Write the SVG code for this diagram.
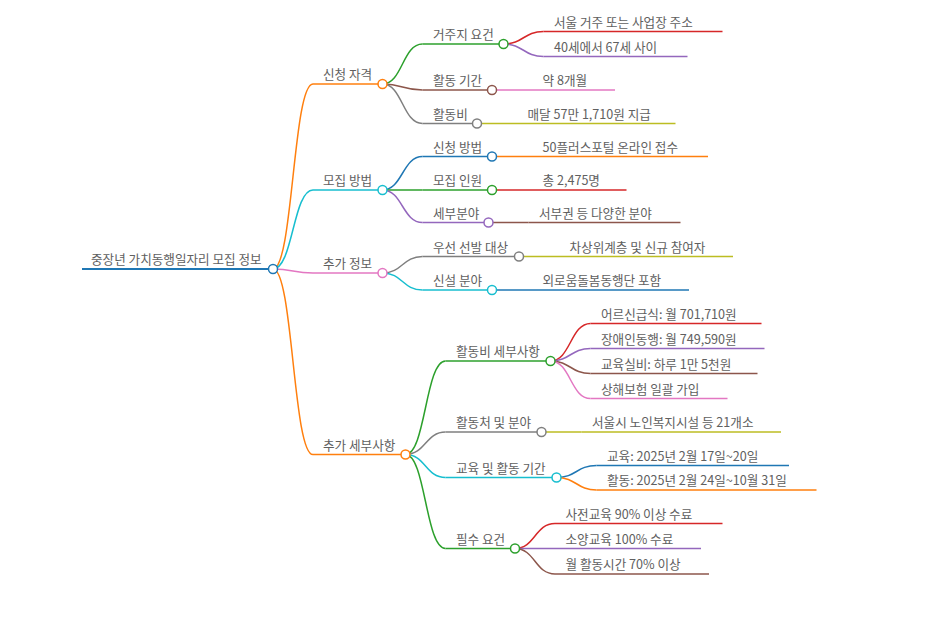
<svg xmlns="http://www.w3.org/2000/svg" width="930" height="620" viewBox="0 0 930 620">
<style>
text{font-family:"Noto Sans CJK KR","Noto Sans",sans-serif;font-size:12.6px;fill:#606060}
path,line{fill:none;stroke-width:1.5}
circle{fill:#fff;stroke-width:1.5}
.b{stroke:#1f77b4}.o{stroke:#ff7f0e}.g{stroke:#2ca02c}.r{stroke:#d62728}.p{stroke:#9467bd}
.br{stroke:#8c564b}.pk{stroke:#e377c2}.gy{stroke:#7f7f7f}.ol{stroke:#bcbd22}.c{stroke:#17becf}
</style>
<g id="connectors">
<path class="o" d="M273,269 C293,269 293,84 313,84"/>
<path class="c" d="M273,269 C293,269 293,190 313,190"/>
<path class="pk" d="M273,269 C293,269 293,273 313,273"/>
<path class="o" d="M273,269 C293,269 293,454.5 313,454.5"/>
<path class="g" d="M382.5,84 C402.5,84 402.5,44 422.5,44"/>
<path class="br" d="M382.5,84 C402.5,84 402.5,90 422.5,90"/>
<path class="gy" d="M382.5,84 C402.5,84 402.5,123.5 422.5,123.5"/>
<path class="r" d="M503.5,44 C523.5,44 523.5,31.5 543.5,31.5"/>
<path class="p" d="M503.5,44 C523.5,44 523.5,56.5 543.5,56.5"/>
<path class="pk" d="M492,90 L532,90"/>
<path class="ol" d="M477,123.5 L517,123.5"/>
<path class="b" d="M382.5,190 C402.5,190 402.5,156.5 422.5,156.5"/>
<path class="g" d="M382.5,190 L422.5,190"/>
<path class="p" d="M382.5,190 C402.5,190 402.5,222.5 422.5,222.5"/>
<path class="o" d="M492,156.5 L532,156.5"/>
<path class="r" d="M492,190 L532,190"/>
<path class="br" d="M488.5,222.5 L528.5,222.5"/>
<path class="gy" d="M382.5,273 C402.5,273 402.5,256.5 422.5,256.5"/>
<path class="c" d="M382.5,273 C402.5,273 402.5,290 422.5,290"/>
<path class="ol" d="M519,256.5 L559,256.5"/>
<path class="b" d="M492,290 L532,290"/>
<path class="g" d="M405.5,454.5 C425.5,454.5 425.5,361 445.5,361"/>
<path class="gy" d="M405.5,454.5 C425.5,454.5 425.5,432 445.5,432"/>
<path class="c" d="M405.5,454.5 C425.5,454.5 425.5,477.5 445.5,477.5"/>
<path class="g" d="M405.5,454.5 C425.5,454.5 425.5,548.5 445.5,548.5"/>
<path class="r" d="M550.5,361 C570.5,361 570.5,323.5 590.5,323.5"/>
<path class="p" d="M550.5,361 C570.5,361 570.5,348.5 590.5,348.5"/>
<path class="br" d="M550.5,361 C570.5,361 570.5,373.5 590.5,373.5"/>
<path class="pk" d="M550.5,361 C570.5,361 570.5,398.5 590.5,398.5"/>
<path class="ol" d="M541.5,432 L581.5,432"/>
<path class="b" d="M556.5,477.5 C576.5,477.5 576.5,465.5 596.5,465.5"/>
<path class="o" d="M556.5,477.5 C576.5,477.5 576.5,490 596.5,490"/>
<path class="r" d="M515,548.5 C535,548.5 535,523.5 555,523.5"/>
<path class="p" d="M515,548.5 L555,548.5"/>
<path class="br" d="M515,548.5 C535,548.5 535,574 555,574"/>
</g>
<g id="root"><line class="b" x1="82" y1="269" x2="273" y2="269" style="stroke-width:2"/><circle class="b" cx="273" cy="269" r="4.5"/><text x="91" y="264">중장년 가치동행일자리 모집 정보</text></g>
<g id="n-qual"><line class="o" x1="313" y1="84" x2="382.5" y2="84"/><circle class="o" cx="382.5" cy="84" r="4.5"/><text x="323" y="79">신청 자격</text></g>
<g id="n-res"><line class="g" x1="422.5" y1="44" x2="503.5" y2="44"/><circle class="g" cx="503.5" cy="44" r="4.5"/><text x="433" y="39">거주지 요건</text></g>
<g id="n-res1"><line class="r" x1="543.5" y1="31.5" x2="722.5" y2="31.5"/><text x="554" y="26.5">서울 거주 또는 사업장 주소</text></g>
<g id="n-res2"><line class="p" x1="543.5" y1="56.5" x2="687.5" y2="56.5"/><text x="554" y="51.5">40세에서 67세 사이</text></g>
<g id="n-period"><line class="br" x1="422.5" y1="90" x2="492" y2="90"/><circle class="br" cx="492" cy="90" r="4.5"/><text x="433" y="85">활동 기간</text></g>
<g id="n-period1"><line class="pk" x1="532" y1="90" x2="615" y2="90"/><text x="542.5" y="85">약 8개월</text></g>
<g id="n-fee"><line class="gy" x1="422.5" y1="123.5" x2="477" y2="123.5"/><circle class="gy" cx="477" cy="123.5" r="4.5"/><text x="433" y="118.5">활동비</text></g>
<g id="n-fee1"><line class="ol" x1="517" y1="123.5" x2="675.5" y2="123.5"/><text x="527.5" y="118.5">매달 57만 1,710원 지급</text></g>
<g id="n-method"><line class="c" x1="313" y1="190" x2="382.5" y2="190"/><circle class="c" cx="382.5" cy="190" r="4.5"/><text x="323" y="185">모집 방법</text></g>
<g id="n-apply"><line class="b" x1="422.5" y1="156.5" x2="492" y2="156.5"/><circle class="b" cx="492" cy="156.5" r="4.5"/><text x="433" y="151.5">신청 방법</text></g>
<g id="n-apply1"><line class="o" x1="532" y1="156.5" x2="708" y2="156.5"/><text x="542.5" y="151.5">50플러스포털 온라인 접수</text></g>
<g id="n-count"><line class="g" x1="422.5" y1="190" x2="492" y2="190"/><circle class="g" cx="492" cy="190" r="4.5"/><text x="433" y="185">모집 인원</text></g>
<g id="n-count1"><line class="r" x1="532" y1="190" x2="626.5" y2="190"/><text x="542.5" y="185">총 2,475명</text></g>
<g id="n-field"><line class="p" x1="422.5" y1="222.5" x2="488.5" y2="222.5"/><circle class="p" cx="488.5" cy="222.5" r="4.5"/><text x="433" y="217.5">세부분야</text></g>
<g id="n-field1"><line class="br" x1="528.5" y1="222.5" x2="680.5" y2="222.5"/><text x="539" y="217.5">서부권 등 다양한 분야</text></g>
<g id="n-extra"><line class="pk" x1="313" y1="273" x2="382.5" y2="273"/><circle class="pk" cx="382.5" cy="273" r="4.5"/><text x="323" y="268">추가 정보</text></g>
<g id="n-prio"><line class="gy" x1="422.5" y1="256.5" x2="519" y2="256.5"/><circle class="gy" cx="519" cy="256.5" r="4.5"/><text x="433" y="251.5">우선 선발 대상</text></g>
<g id="n-prio1"><line class="ol" x1="559" y1="256.5" x2="733" y2="256.5"/><text x="569.5" y="251.5">차상위계층 및 신규 참여자</text></g>
<g id="n-new"><line class="c" x1="422.5" y1="290" x2="492" y2="290"/><circle class="c" cx="492" cy="290" r="4.5"/><text x="433" y="285">신설 분야</text></g>
<g id="n-new1"><line class="b" x1="532" y1="290" x2="689" y2="290"/><text x="542.5" y="285">외로움돌봄동행단 포함</text></g>
<g id="n-detail"><line class="o" x1="313" y1="454.5" x2="405.5" y2="454.5"/><circle class="o" cx="405.5" cy="454.5" r="4.5"/><text x="323" y="449.5">추가 세부사항</text></g>
<g id="n-feed"><line class="g" x1="445.5" y1="361" x2="550.5" y2="361"/><circle class="g" cx="550.5" cy="361" r="4.5"/><text x="456" y="356">활동비 세부사항</text></g>
<g id="n-feed1"><line class="r" x1="590.5" y1="323.5" x2="761.5" y2="323.5"/><text x="601" y="318.5">어르신급식: 월 701,710원</text></g>
<g id="n-feed2"><line class="p" x1="590.5" y1="348.5" x2="764.5" y2="348.5"/><text x="601" y="343.5">장애인동행: 월 749,590원</text></g>
<g id="n-feed3"><line class="br" x1="590.5" y1="373.5" x2="757.5" y2="373.5"/><text x="601" y="368.5">교육실비: 하루 1만 5천원</text></g>
<g id="n-feed4"><line class="pk" x1="590.5" y1="398.5" x2="727.5" y2="398.5"/><text x="601" y="393.5">상해보험 일괄 가입</text></g>
<g id="n-place"><line class="gy" x1="445.5" y1="432" x2="541.5" y2="432"/><circle class="gy" cx="541.5" cy="432" r="4.5"/><text x="456" y="427">활동처 및 분야</text></g>
<g id="n-place1"><line class="ol" x1="581.5" y1="432" x2="781" y2="432"/><text x="592" y="427">서울시 노인복지시설 등 21개소</text></g>
<g id="n-sched"><line class="c" x1="445.5" y1="477.5" x2="556.5" y2="477.5"/><circle class="c" cx="556.5" cy="477.5" r="4.5"/><text x="456" y="472.5">교육 및 활동 기간</text></g>
<g id="n-sched1"><line class="b" x1="596.5" y1="465.5" x2="789" y2="465.5"/><text x="607" y="460.5">교육: 2025년 2월 17일~20일</text></g>
<g id="n-sched2"><line class="o" x1="596.5" y1="490" x2="816.5" y2="490"/><text x="607" y="485">활동: 2025년 2월 24일~10월 31일</text></g>
<g id="n-req"><line class="g" x1="445.5" y1="548.5" x2="515" y2="548.5"/><circle class="g" cx="515" cy="548.5" r="4.5"/><text x="456" y="543.5">필수 요건</text></g>
<g id="n-req1"><line class="r" x1="555" y1="523.5" x2="722.5" y2="523.5"/><text x="565.5" y="518.5">사전교육 90% 이상 수료</text></g>
<g id="n-req2"><line class="p" x1="555" y1="548.5" x2="701" y2="548.5"/><text x="565.5" y="543.5">소양교육 100% 수료</text></g>
<g id="n-req3"><line class="br" x1="555" y1="574" x2="709" y2="574"/><text x="565.5" y="569">월 활동시간 70% 이상</text></g>
</svg>
